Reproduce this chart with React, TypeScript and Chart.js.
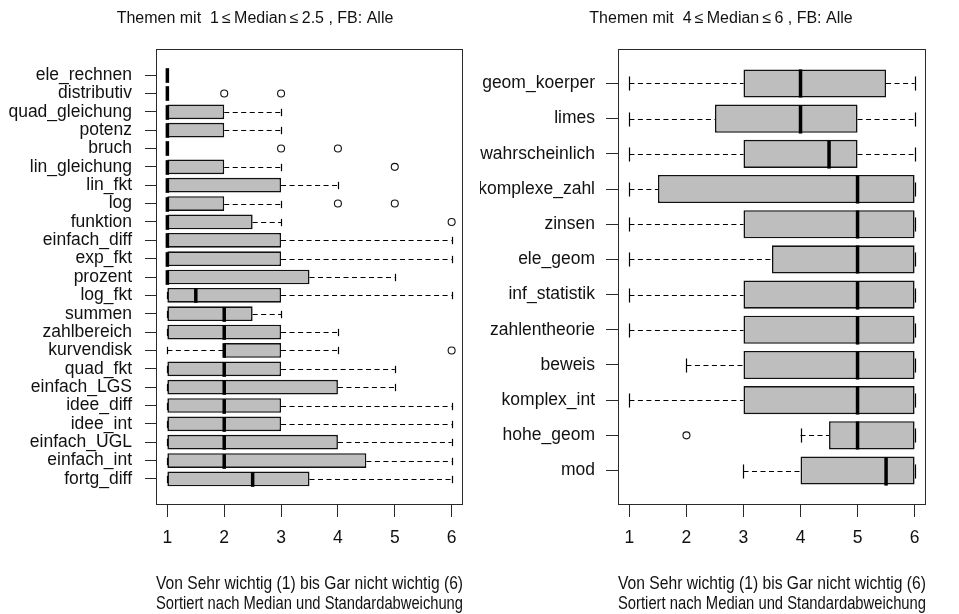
import React, { useEffect, useRef } from 'react';
import { Chart, registerables } from 'chart.js';

Chart.register(...registerables);

// ---------- Data: left panel (1 <= Median <= 2.5) ----------
const leftTopics = [
  'ele_rechnen', 'distributiv', 'quad_gleichung', 'potenz', 'bruch', 'lin_gleichung',
  'lin_fkt', 'log', 'funktion', 'einfach_diff', 'exp_fkt', 'prozent', 'log_fkt',
  'summen', 'zahlbereich', 'kurvendisk', 'quad_fkt', 'einfach_LGS', 'idee_diff',
  'idee_int', 'einfach_UGL', 'einfach_int', 'fortg_diff',
];
const leftLow = [1, 1, 1, 1, 1, 1, 1, 1, 1, 1, 1, 1, 1, 1, 1, 1, 1, 1, 1, 1, 1, 1, 1];
const leftQ1 = [1, 1, 1, 1, 1, 1, 1, 1, 1, 1, 1, 1, 1, 1, 1, 2, 1, 1, 1, 1, 1, 1, 1];
const leftMedian = [1, 1, 1, 1, 1, 1, 1, 1, 1, 1, 1, 1, 1.5, 2, 2, 2, 2, 2, 2, 2, 2, 2, 2.5];
const leftQ3 = [1, 1, 2, 2, 1, 2, 3, 2, 2.5, 3, 3, 3.5, 3, 2.5, 3, 3, 3, 4, 3, 3, 4, 4.5, 3.5];
const leftHigh = [1, 1, 3, 3, 1, 3, 4, 3, 3, 6, 6, 5, 6, 3, 4, 4, 5, 5, 6, 6, 6, 6, 6];
const leftOutlierTopic = ['distributiv', 'distributiv', 'bruch', 'bruch', 'lin_gleichung', 'log', 'log', 'funktion', 'kurvendisk'];
const leftOutlierValue = [2, 3, 3, 4, 5, 4, 5, 6, 6];

// ---------- Data: right panel (4 <= Median <= 6) ----------
const rightTopics = [
  'geom_koerper', 'limes', 'wahrscheinlich', 'komplexe_zahl', 'zinsen', 'ele_geom',
  'inf_statistik', 'zahlentheorie', 'beweis', 'komplex_int', 'hohe_geom', 'mod',
];
const rightLow = [1, 1, 1, 1, 1, 1, 1, 1, 2, 1, 4, 3];
const rightQ1 = [3, 2.5, 3, 1.5, 3, 3.5, 3, 3, 3, 3, 4.5, 4];
const rightMedian = [4, 4, 4.5, 5, 5, 5, 5, 5, 5, 5, 5, 5.5];
const rightQ3 = [5.5, 5, 5, 6, 6, 6, 6, 6, 6, 6, 6, 6];
const rightHigh = [6, 6, 6, 6, 6, 6, 6, 6, 6, 6, 6, 6];
const rightOutlierTopic = ['hohe_geom'];
const rightOutlierValue = [2];

const xTicks = [1, 2, 3, 4, 5, 6];
const leftTitle = 'Themen mit  1\u2009\u2264\u2009Median\u2009\u2264\u20092.5 , FB: Alle';
const rightTitle = 'Themen mit  4\u2009\u2264\u2009Median\u2009\u2264\u20096 , FB: Alle';
const xTitleLines = [
  'Von Sehr wichtig (1) bis Gar nicht wichtig (6)',
  'Sortiert nach Median und Standardabweichung',
];

const FONT = '"Liberation Sans", Arial, sans-serif';
const FS = 17.5;
const TITLE_FS = 16;
const INK = '#111';

interface PanelProps {
  topics: string[];
  low: number[];
  q1: number[];
  med: number[];
  q3: number[];
  high: number[];
  outTopic: string[];
  outValue: number[];
  title: string;
  titleX: number;
  width: number;
  left: number;
  yAxisWidth: number;
  padRight: number;
  tickLen: number;
  tickPad: number;
}

function BoxPanel(p: PanelProps) {
  const ref = useRef<HTMLCanvasElement | null>(null);

  useEffect(() => {
    if (!ref.current) return;
    const n = p.topics.length;
    const pad = 0.04 * n;

    const boxParts = {
      id: 'boxParts',
      afterDatasetsDraw(chart: any) {
        const ctx = chart.ctx;
        const xs = chart.scales.x;
        const ys = chart.scales.y;
        const h = 0.8 * Math.abs(ys.getPixelForValue(2) - ys.getPixelForValue(1));
        ctx.save();
        for (let i = 0; i < n; i++) {
          const y = Math.round(ys.getPixelForValue(i + 1)) + 0.5;
          const xl = xs.getPixelForValue(p.low[i]);
          const x1 = xs.getPixelForValue(p.q1[i]);
          const x3 = xs.getPixelForValue(p.q3[i]);
          const xh = xs.getPixelForValue(p.high[i]);
          const xm = xs.getPixelForValue(p.med[i]);
          ctx.strokeStyle = '#000';
          ctx.lineWidth = 1.2;
          ctx.setLineDash([5, 3.5]);
          if (xh - x3 > 0.5) {
            ctx.beginPath(); ctx.moveTo(x3, y); ctx.lineTo(xh, y); ctx.stroke();
          }
          if (x1 - xl > 0.5) {
            ctx.beginPath(); ctx.moveTo(xl, y); ctx.lineTo(x1, y); ctx.stroke();
          }
          ctx.setLineDash([]);
          const sx = [Math.round(xl) + 0.5, Math.round(xh) + 0.5];
          for (const s of sx) {
            ctx.beginPath(); ctx.moveTo(s, y - h / 4); ctx.lineTo(s, y + h / 4); ctx.stroke();
          }
          ctx.lineWidth = 3.5;
          ctx.beginPath(); ctx.moveTo(xm, y - h / 2); ctx.lineTo(xm, y + h / 2); ctx.stroke();
        }
        ctx.restore();
      },
      afterDraw(chart: any) {
        const ctx = chart.ctx;
        const a = chart.chartArea;
        ctx.save();
        ctx.strokeStyle = '#2a2a2a';
        ctx.lineWidth = 1;
        ctx.strokeRect(Math.round(a.left) + 0.5, Math.round(a.top) + 0.5,
          Math.round(a.right - a.left) - 1, Math.round(a.bottom - a.top) - 1);
        ctx.fillStyle = INK;
        ctx.font = `${TITLE_FS}px ${FONT}`;
        ctx.textAlign = 'center';
        ctx.textBaseline = 'middle';
        ctx.fillText(p.title, p.titleX, 19);
        ctx.restore();
      },
    };

    const chart = new Chart(ref.current, {
      type: 'bar',
      data: {
        datasets: [
          {
            type: 'bar',
            indexAxis: 'y',
            data: p.topics.map((_, i) => ({ y: i + 1, x: [p.q1[i], p.q3[i]] })) as any,
            backgroundColor: '#bebebe',
            borderColor: '#111',
            borderWidth: 1.6,
            borderSkipped: false,
            barPercentage: 0.8,
            categoryPercentage: 1,
          } as any,
          {
            type: 'scatter',
            data: p.outTopic.map((t, k) => ({ x: p.outValue[k], y: p.topics.indexOf(t) + 1 })),
            pointRadius: 3.5,
            pointBorderWidth: 1.1,
            pointBorderColor: INK,
            pointBackgroundColor: 'rgba(255,255,255,0)',
            showLine: false,
          } as any,
        ],
      },
      options: {
        indexAxis: 'y',
        responsive: false,
        animation: false,
        devicePixelRatio: 1,
        events: [],
        layout: { padding: { left: 0, right: p.padRight, top: 49, bottom: 0 } },
        plugins: { legend: { display: false }, tooltip: { enabled: false }, title: { display: false } },
        scales: {
          x: {
            type: 'linear',
            position: 'bottom',
            offset: false,
            min: 0.8,
            max: 6.2,
            afterBuildTicks: (s: any) => { s.ticks = xTicks.map((v) => ({ value: v })); },
            afterFit: (s: any) => { s.height = 614 - 505; },
            grid: { display: true, offset: false, drawOnChartArea: false, drawTicks: true, tickLength: 12, color: '#2a2a2a', lineWidth: 1 },
            border: { display: false },
            ticks: { color: INK, font: { family: FONT, size: FS }, padding: 11, maxRotation: 0, autoSkip: false },
            title: {
              display: true,
              text: xTitleLines,
              color: INK,
              font: { family: FONT, size: FS, lineHeight: 20 / FS },
              padding: { top: 0, bottom: 0 },
            },
          },
          y: {
            type: 'linear',
            position: 'left',
            offset: false,
            reverse: true,
            min: 0.5 - pad,
            max: n + 0.5 + pad,
            afterBuildTicks: (s: any) => { s.ticks = p.topics.map((_, i) => ({ value: i + 1 })); },
            afterFit: (s: any) => { s.width = p.yAxisWidth; },
            grid: { display: true, offset: false, drawOnChartArea: false, drawTicks: true, tickLength: p.tickLen, color: '#2a2a2a', lineWidth: 1 },
            border: { display: false },
            ticks: {
              color: INK,
              font: { family: FONT, size: FS },
              padding: p.tickPad,
              autoSkip: false,
              callback: (v: any) => p.topics[Math.round(Number(v)) - 1] ?? '',
            },
          },
        },
      } as any,
      plugins: [boxParts],
    });
    return () => chart.destroy();
  }, []);

  return (
    <canvas
      ref={ref}
      width={p.width}
      height={614}
      style={{ position: 'absolute', left: p.left, top: 0, width: p.width, height: 614 }}
    />
  );
}

export default function App() {
  return (
    <div style={{ position: 'fixed', left: 0, top: 0, width: 959, height: 614, background: '#fff', overflow: 'hidden' }}>
      <BoxPanel
        topics={leftTopics} low={leftLow} q1={leftQ1} med={leftMedian} q3={leftQ3} high={leftHigh}
        outTopic={leftOutlierTopic} outValue={leftOutlierValue}
        title={leftTitle} titleX={255} width={480} left={0}
        yAxisWidth={156} padRight={17} tickLen={11} tickPad={13}
      />
      <BoxPanel
        topics={rightTopics} low={rightLow} q1={rightQ1} med={rightMedian} q3={rightQ3} high={rightHigh}
        outTopic={rightOutlierTopic} outValue={rightOutlierValue}
        title={rightTitle} titleX={241} width={479} left={480}
        yAxisWidth={138} padRight={33} tickLen={12} tickPad={11}
      />
    </div>
  );
}
